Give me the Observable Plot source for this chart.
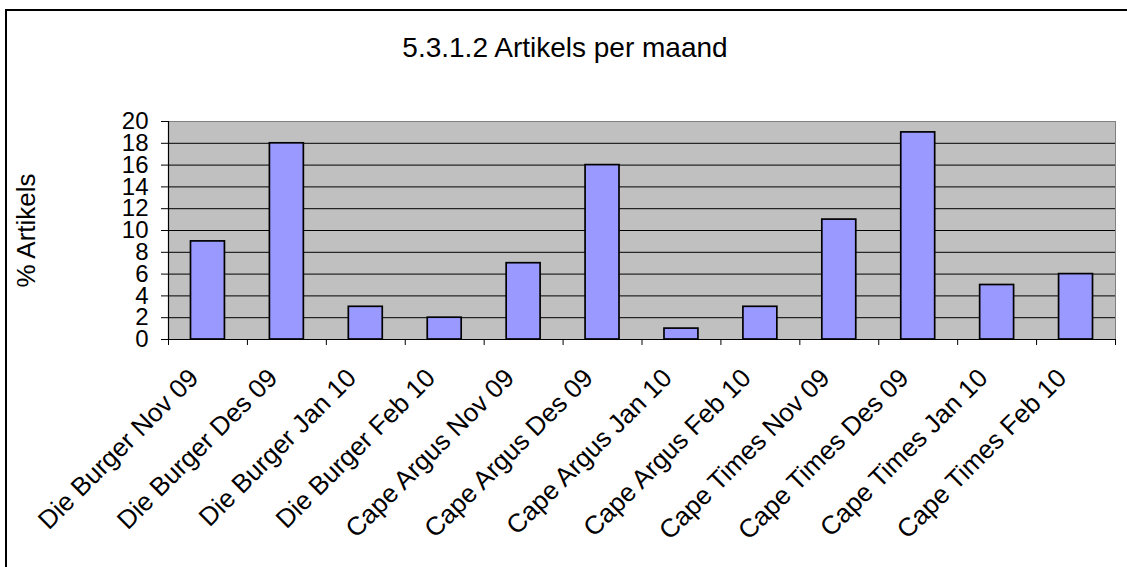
<!DOCTYPE html>
<html>
<head>
<meta charset="utf-8">
<script src="https://cdn.jsdelivr.net/npm/d3@7"></script>
<script src="https://cdn.jsdelivr.net/npm/@observablehq/plot@0.6"></script>
<style>
  html, body { margin: 0; padding: 0; background: #fff; }
  #wrap { position: relative; width: 1127px; height: 567px; overflow: hidden; font-family: "Liberation Sans", Arial, sans-serif; }
  #border { position: absolute; left: 5px; top: 9px; width: 1140px; height: 580px; border: 2px solid #000; box-sizing: border-box; }
  #title { position: absolute; left: 0; width: 1130px; top: 32px; text-align: center; font-size: 28px; line-height: 32px; color: #000; }
  #chart { position: absolute; left: 0; top: 0; }
</style>
</head>
<body>
<div id="wrap">
  <div id="border"></div>
  <div id="title">5.3.1.2 Artikels per maand</div>
  <div id="chart"></div>
</div>
<script>
const categories = [
  "Die Burger Nov 09", "Die Burger Des 09", "Die Burger Jan 10", "Die Burger Feb 10",
  "Cape Argus Nov 09", "Cape Argus Des 09", "Cape Argus Jan 10", "Cape Argus Feb 10",
  "Cape Times Nov 09", "Cape Times Des 09", "Cape Times Jan 10", "Cape Times Feb 10"
];
const values = [9, 18, 3, 2, 7, 16, 1, 3, 11, 19, 5, 6];
const yTicks = [0, 2, 4, 6, 8, 10, 12, 14, 16, 18, 20];
const gridValues = [2, 4, 6, 8, 10, 12, 14, 16, 18];
const yLabel = "% Artikels";

const data = categories.map((c, i) => ({cat: c, val: values[i]}));

const W = 1127, H = 567;
const mL = 168, mR = 12, mT = 121, mB = 228;
const step = (W - mL - mR) / categories.length;

const chart = Plot.plot({
  width: W,
  height: H,
  marginLeft: mL,
  marginRight: mR,
  marginTop: mT,
  marginBottom: mB,
  style: {fontFamily: "Liberation Sans, Arial, sans-serif", background: "transparent", color: "#000"},
  x: {domain: categories, paddingInner: 0.57, paddingOuter: 0.285, round: false, label: null, axis: null},
  y: {domain: [0, 20], label: null, axis: null},
  marks: [
    Plot.frame({fill: "#C0C0C0", stroke: "#808080"}),
    Plot.ruleY(gridValues, {stroke: "#000", strokeWidth: 1}),
    Plot.barY(data, {x: "cat", y: "val", fill: "#9999FF", stroke: "#000", strokeWidth: 1.7}),
    Plot.ruleY([0], {stroke: "#000", strokeWidth: 1.2}),
    Plot.ruleX([categories[0]], {dx: -step / 2, y1: 0, y2: 20, stroke: "#000", strokeWidth: 1.2}),
    Plot.axisY({ticks: yTicks, tickSize: 7, tickPadding: 13, fontSize: 24, tickFormat: d => String(d)}),
    Plot.axisX({tickSize: 6, text: null, dx: -step / 2}),
    Plot.axisX([categories[categories.length - 1]], {tickSize: 6, text: null, dx: step / 2}),
    Plot.text(categories, {x: d => d, frameAnchor: "bottom", rotate: -45, textAnchor: "end", lineAnchor: "bottom", dx: -8, dy: 40, fontSize: 26, text: d => d}),
    Plot.text([yLabel], {frameAnchor: "left", dx: -142, rotate: -90, textAnchor: "middle", fontSize: 26, text: d => d})
  ]
});
document.getElementById("chart").appendChild(chart);
</script>
</body>
</html>
